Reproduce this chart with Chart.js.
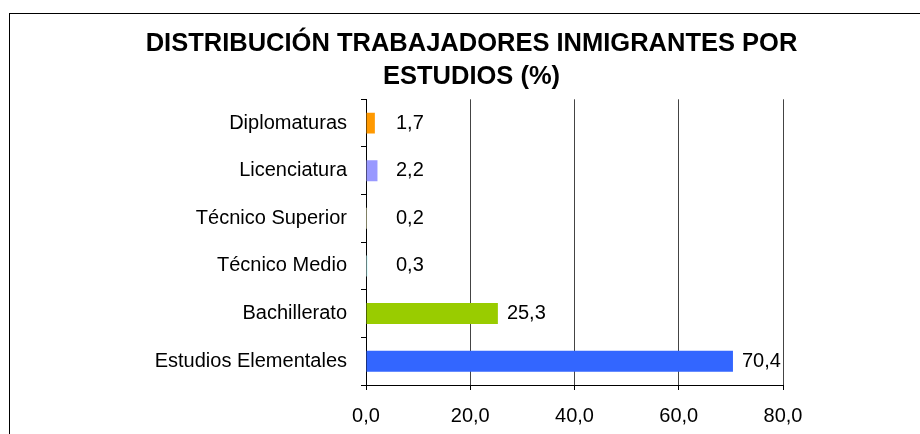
<!DOCTYPE html>
<html>
<head>
<meta charset="utf-8">
<script src="https://cdn.jsdelivr.net/npm/chart.js@4"></script>
<style>
  html, body { margin: 0; padding: 0; background: #fff; overflow: hidden; }
  #wrap { position: relative; width: 920px; height: 434px; }
  #frame { position: absolute; left: 9px; top: 13px; width: 1000px; height: 1000px;
           border-left: 1px solid #000; border-top: 1px solid #000; }
  #chart { position: absolute; left: 0; top: 0; }
</style>
</head>
<body>
<div id="wrap">
  <div id="frame"></div>
  <canvas id="chart" width="920" height="434"></canvas>
</div>
<script>
  // ── Data ────────────────────────────────────────────────────────────────
  const categories = ['Diplomaturas', 'Licenciatura', 'Técnico Superior', 'Técnico Medio', 'Bachillerato', 'Estudios Elementales'];
  const values     = [1.7, 2.2, 0.2, 0.3, 25.3, 70.4];
  const xTicks     = [0, 20, 40, 60, 80];
  const titleLines = ['DISTRIBUCIÓN TRABAJADORES INMIGRANTES POR', 'ESTUDIOS (%)'];

  const barColors = ['#FF9900', '#9999FF', '#FFFFCC', '#CCFFFF', '#99CC00', '#3366FF'];
  const FONT = "'Liberation Sans', Arial, sans-serif";

  const fmt = v => v.toFixed(1).replace('.', ',');

  // value labels at the end of each bar (short bars get their label pushed clear of the axis)
  const valueLabels = {
    id: 'valueLabels',
    afterDatasetsDraw(chart) {
      const ctx = chart.ctx;
      const meta = chart.getDatasetMeta(0);
      const minX = chart.scales.x.getPixelForValue(0) + 30;
      ctx.save();
      ctx.font = '20px ' + FONT;
      ctx.fillStyle = '#000';
      ctx.textAlign = 'left';
      ctx.textBaseline = 'middle';
      meta.data.forEach((bar, i) => {
        ctx.fillText(fmt(values[i]), Math.max(bar.x + 9, minX), bar.y);
      });
      ctx.restore();
    }
  };

  // centre the title on the whole frame, not on the padded box
  const titleSpan = {
    id: 'titleSpan',
    afterLayout(chart) {
      const t = chart.titleBlock;
      if (t) { t.left = 22; t.right = 921; }
    }
  };

  new Chart(document.getElementById('chart'), {
    type: 'bar',
    data: {
      labels: categories,
      datasets: [{
        data: values,
        backgroundColor: barColors,
        borderWidth: 0,
        categoryPercentage: 1,
        barPercentage: 0.44,
      }]
    },
    options: {
      indexAxis: 'y',
      responsive: false,
      animation: false,
      layout: { padding: { left: 140, right: 137, top: 0, bottom: 0 } },
      scales: {
        x: {
          min: 0,
          max: 80,
          afterBuildTicks: s => { s.ticks = xTicks.map(v => ({ value: v })); },
          afterFit: s => { s.height = 49; },
          grid: { color: '#444', lineWidth: 1, drawTicks: true, tickLength: 5, tickColor: '#000' },
          border: { color: '#000', width: 1 },
          ticks: { color: '#000', padding: 14, font: { family: FONT, size: 20 }, callback: v => fmt(v) }
        },
        y: {
          offset: true,
          afterFit: s => { s.width = 226; },
          grid: { offset: true, drawOnChartArea: false, drawTicks: true, tickLength: 5, tickColor: '#000' },
          border: { color: '#000', width: 1 },
          ticks: { color: '#000', padding: 14, font: { family: FONT, size: 20 } }
        }
      },
      plugins: {
        legend: { display: false },
        tooltip: { enabled: false },
        title: {
          display: true,
          text: titleLines,
          color: '#000',
          font: { family: FONT, size: 25.5, weight: 'bold', lineHeight: 1.3 },
          padding: { top: 27, bottom: 6 }
        }
      }
    },
    plugins: [valueLabels, titleSpan]
  });
</script>
</body>
</html>
